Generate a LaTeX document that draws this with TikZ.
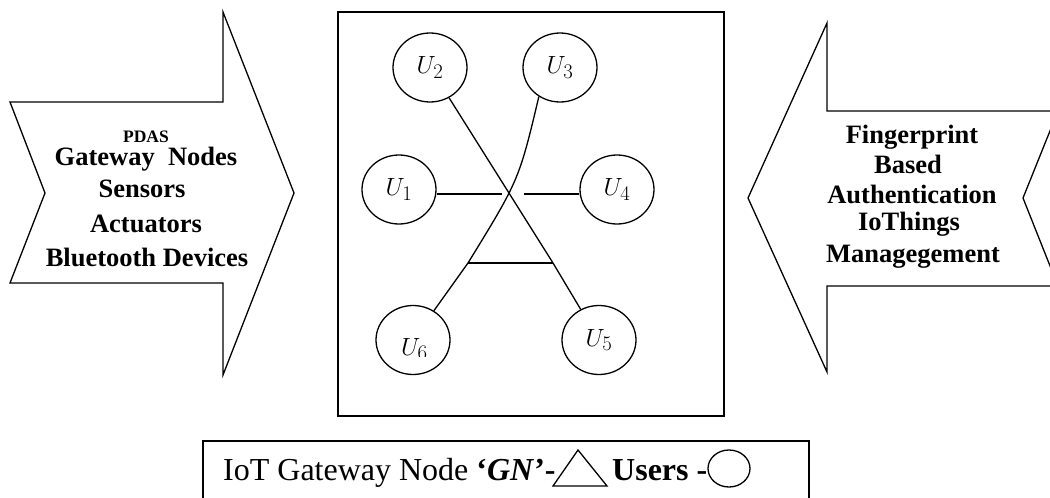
\documentclass[tikz,border=0pt]{standalone}
\usepackage{fontspec}
\setmainfont{Liberation Serif}
\usetikzlibrary{shapes.geometric}
\begin{document}
\begin{tikzpicture}[x=1pt,y=-1pt,
  outl/.style={draw=black,line width=1.3pt},
  user/.style={ellipse,draw=black,line width=1.3pt,minimum width=74pt,minimum height=69pt,inner sep=0pt,font=\fontsize{29}{31}\selectfont},
  arrtxt/.style={font=\bfseries\fontsize{26.5}{28}\selectfont,anchor=base,inner sep=0pt},
  legtxt/.style={font=\fontsize{32}{34}\selectfont,anchor=base west,inner sep=0pt},
  link/.style={draw=black,line width=1.3pt}]
\useasboundingbox (0,0) rectangle (1050,498);
\clip (0,0) rectangle (1050,498);

% left arrow
\draw[outl] (10,102) -- (223,102) -- (223,12) -- (294,193) -- (223,375) -- (223,283) -- (10,283) -- (45,193) -- cycle;
% right arrow
\draw[outl] (1058,111) -- (827,111) -- (827,23) -- (748,198) -- (827,372) -- (827,286) -- (1058,286) -- (1023,198) -- cycle;
% centre box
\draw[outl] (338,12) rectangle (724,416);

% left arrow text
\node[font=\bfseries\fontsize{17.5}{19}\selectfont,anchor=base,inner sep=0pt] (pdas) at (146,142) {PDAS};
\node[arrtxt] (gwn) at (146,165) {Gateway\ \ Nodes};
\node[arrtxt] (sens) at (142,197) {Sensors};
\node[arrtxt] (act) at (146,232) {Actuators};
\node[arrtxt] (bt) at (147,266) {Bluetooth Devices};

% right arrow text
\node[arrtxt] (fp) at (912,143) {Fingerprint};
\node[arrtxt] (bas) at (908,173) {Based};
\node[arrtxt] (auth) at (912,203) {Authentication};
\node[arrtxt] (iot) at (909,230) {IoThings};
\node[arrtxt] (mgmt) at (913,262) {Managegement};

% users
\node[user] (u2) at (430,67.5) {$U_2$};
\node[user] (u3) at (560,67.5) {$U_3$};
\node[user] (u1) at (399,189.5) {$U_1$};
\node[user] (u4) at (617,189.5) {$U_4$};
\node[user] (u6) at (413,340) {};
\node[user] (u5) at (599,340) {$U_5$};
\begin{scope}
  \clip (370,300) rectangle (460,356.5);
  \node[font=\fontsize{32}{34}\selectfont,anchor=base west,inner sep=0pt] (u6l) at (401,355) {$U_6$};
\end{scope}

% gateway node (triangle) and links
\coordinate (gl) at (468,263);
\coordinate (gr) at (553,263);
\coordinate (c1) at (502,194);
\coordinate (c4) at (524,194);
\draw[link] (u2) -- (gr) -- (u5);
\draw[link] (u3.234) .. controls (519,180) .. (gl) -- (u6);
\draw[link] (gl) -- (gr);
\draw[link] (u1.east |- c1) -- (c1);
\draw[link] (c4) -- (u4.west |- c4);

% legend
\draw[outl] (203,441) rectangle (809,510);
\node[legtxt] (lg1) at (223,480) {IoT Gateway Node \textbf{`\textit{GN}'-}};
\draw[line width=1.3pt] (553,486) -- (578,450) -- (607,486) -- cycle;
\node[legtxt] (lgu) at (612,480) {\textbf{Users -}};
\draw[line width=1.3pt] (729,468.5) ellipse [x radius=21pt, y radius=18.5pt];
\end{tikzpicture}
\end{document}
